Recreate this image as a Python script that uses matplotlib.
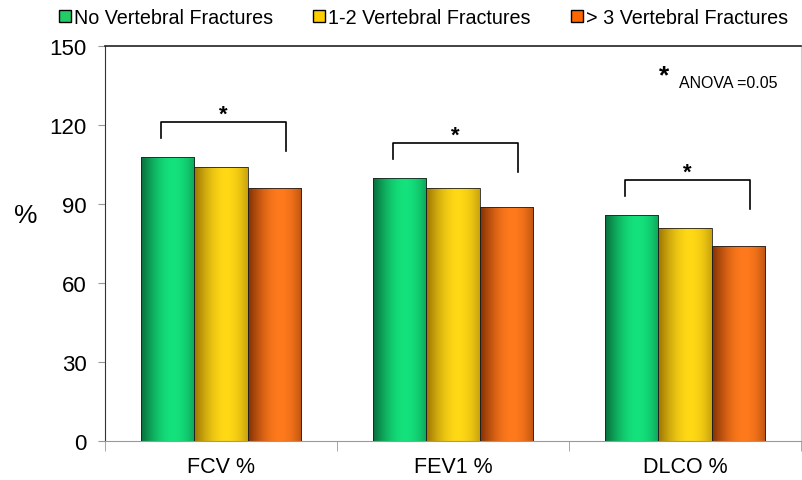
import numpy as np
import matplotlib
matplotlib.use("Agg")
import matplotlib.pyplot as plt
from matplotlib.lines import Line2D
from matplotlib.colors import to_rgb

plt.rcParams["font.family"] = ["Liberation Sans", "DejaVu Sans"]

categories = ["FCV %", "FEV1 %", "DLCO %"]
series_names = ["No Vertebral Fractures", "1-2 Vertebral Fractures", "> 3 Vertebral Fractures"]
no_fract = [108, 100, 86]
one_two = [104, 96, 81]
three_plus = [96, 89, 74]
series = [no_fract, one_two, three_plus]

# bright / dark tones for the cylinder look
bright = ["#14E27C", "#FFD816", "#FF7A1C"]
dark = ["#075A30", "#8A6500", "#6E2400"]
legend_colors = ["#22CC66", "#FFCC00", "#FF6600"]

fig = plt.figure(figsize=(8.03, 4.81), dpi=100)
ax = fig.add_axes([0.1308, 0.0811, 0.8667, 0.8212])

x = np.arange(len(categories))
width = 0.229
offsets = [-width, 0, width]


def shade_row(c_bright, c_dark, n=64):
    t = np.linspace(0, 1, n)
    # dark at left edge, brightest near 60%, a bit darker at right
    f = np.where(t < 0.6, 0.15 + 0.85 * np.sin(t / 0.6 * np.pi / 2), 1.0 - 0.45 * ((t - 0.6) / 0.4) ** 2)
    b = np.array(to_rgb(c_bright))
    d = np.array(to_rgb(c_dark))
    row = d[None, :] + (b - d)[None, :] * f[:, None]
    return np.clip(row[None, :, :], 0, 1)


for i, vals in enumerate(series):
    bars = ax.bar(x + offsets[i], vals, width, facecolor="none", edgecolor="#202020", linewidth=0.6, zorder=3)
    img = shade_row(bright[i], dark[i])
    for rect in bars:
        x0 = rect.get_x()
        h = rect.get_height()
        im = ax.imshow(img, extent=[x0, x0 + width, 0, h], aspect="auto", zorder=2, interpolation="bilinear")
        im.set_clip_path(rect)

ax.set_xlim(-0.5, 2.5)
ax.set_ylim(0, 150)

# significance brackets
for i in range(len(categories)):
    top = no_fract[i] + 13
    xl, xr = x[i] - 0.26, x[i] + 0.28
    ax.plot([xl, xl, xr, xr], [top - 6, top, top, top - 11], color="black", lw=1.2, zorder=4)
    ax.text((xl + xr) / 2, top - 1.0, "*", ha="center", va="bottom", fontsize=16, fontweight="bold")

ax.text(0.803, 0.895, "*", transform=ax.transAxes, fontsize=19, fontweight="bold", ha="center", va="bottom")
ax.text(0.825, 0.908, "ANOVA =0.05", transform=ax.transAxes, fontsize=11.5, ha="left", va="center")

ax.set_yticks([0, 30, 60, 90, 120, 150])
ax.tick_params(axis="y", labelsize=16, length=5, color="#999999", direction="out", pad=8)
ax.set_xticks(x)
ax.set_xticklabels(categories, fontsize=15.5)
ax.tick_params(axis="x", length=0, pad=11)
ax.set_xticks([-0.5, 0.5, 1.5, 2.5], minor=True)
ax.tick_params(axis="x", which="minor", length=7, color="#999999", direction="out")

ax.spines["left"].set_color("#333333")
ax.spines["top"].set_color("#222222")
ax.spines["top"].set_linewidth(1.2)
ax.spines["bottom"].set_color("#999999")
ax.spines["right"].set_color("#cccccc")

fig.text(0.032, 0.55, "%", fontsize=19, ha="center", va="center")

handles = [Line2D([0], [0], marker="s", color="none", markerfacecolor=c, markeredgecolor="black",
                  markeredgewidth=1.0, markersize=8, label=n) for c, n in zip(legend_colors, series_names)]
fig.legend(handles=handles, loc="center", bbox_to_anchor=(0.527, 0.962), ncol=3, frameon=False,
           fontsize=14.2, handletextpad=0.1, columnspacing=2.0, handlelength=0.7, borderpad=0.0)

fig.savefig("out.png", dpi=100, facecolor="white")
